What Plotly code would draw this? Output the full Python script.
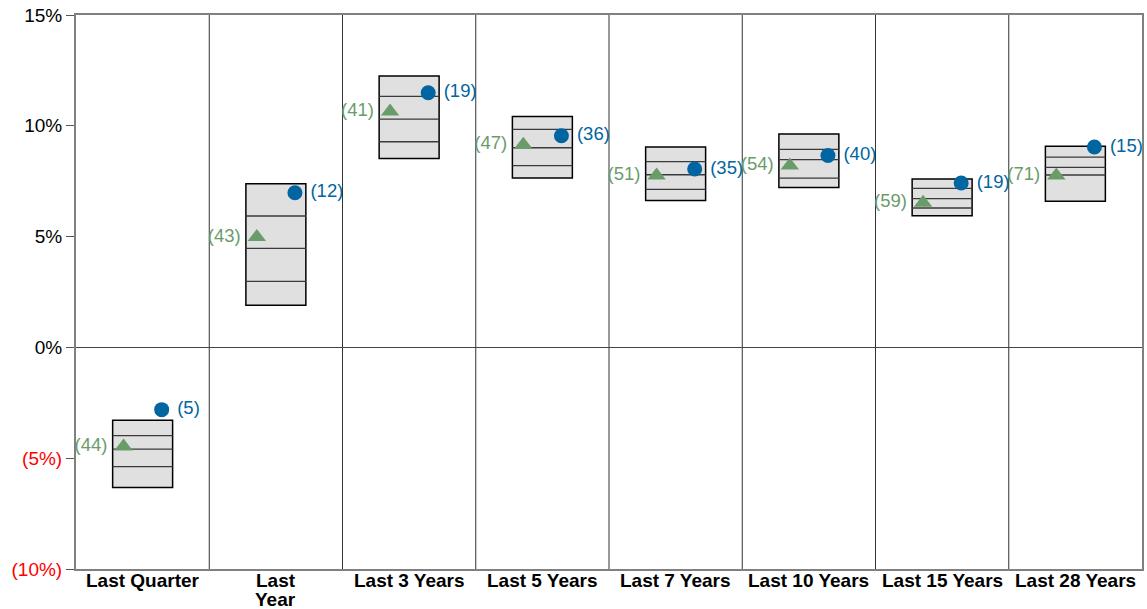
import plotly.graph_objects as go

categories = ["Last Quarter", "Last<br>Year", "Last 3 Years", "Last 5 Years",
              "Last 7 Years", "Last 10 Years", "Last 15 Years", "Last 28 Years"]

# floating bar percentiles (top -> bottom): 5th, 25th, median, 75th, 95th
p05 = [-3.29, 7.38, 12.25, 10.42, 9.04, 9.63, 7.60, 9.08]
p25 = [-3.98, 5.93, 11.33, 9.84, 8.38, 8.94, 7.18, 8.59]
p50 = [-4.59, 4.47, 10.30, 9.01, 7.79, 8.47, 6.71, 8.12]
p75 = [-5.38, 2.98, 9.28, 8.20, 7.13, 7.64, 6.29, 7.78]
p95 = [-6.32, 1.90, 8.53, 7.64, 6.63, 7.22, 5.94, 6.59]

fund_vals = [-2.81, 6.98, 11.49, 9.55, 8.05, 8.66, 7.42, 9.04]
fund_ranks = [5, 12, 19, 36, 35, 40, 19, 15]
index_vals = [-4.47, 4.98, 10.65, 9.15, 7.76, 8.21, 6.53, 7.76]
index_ranks = [44, 43, 41, 47, 51, 54, 59, 71]

ytick_vals = [-10, -5, 0, 5, 10, 15]

BLUE = "#0065A1"
GREEN = "#6A9C6A"
FONT = "Liberation Sans, Arial, sans-serif"
BW = 0.45  # box width in category units
OFF = 0.143  # marker offset from category center

xs = list(range(len(categories)))

fig = go.Figure()

fig.add_trace(go.Bar(
    x=xs,
    y=[hi - lo for hi, lo in zip(p05, p95)],
    base=p95,
    width=BW,
    marker=dict(color="#E0E0E0", line=dict(color="black", width=1.5)),
    hoverinfo="skip",
))

# inner percentile lines
lx, ly = [], []
for i in xs:
    for v in (p25[i], p50[i], p75[i]):
        lx += [i - BW / 2, i + BW / 2, None]
        ly += [v, v, None]
fig.add_trace(go.Scatter(x=lx, y=ly, mode="lines",
                         line=dict(color="#3a3a3a", width=1.3), hoverinfo="skip"))

fig.add_trace(go.Scatter(
    x=[i + OFF for i in xs], y=fund_vals,
    mode="markers+text", cliponaxis=False,
    marker=dict(symbol="circle", size=15, color=BLUE),
    text=[f" ({r})" for r in fund_ranks],
    textposition="middle right",
    textfont=dict(color=BLUE, size=18.5, family=FONT),
))

fig.add_trace(go.Scatter(
    x=[i - OFF for i in xs], y=index_vals,
    mode="markers+text", cliponaxis=False,
    marker=dict(symbol="triangle-up", size=16, color=GREEN),
    text=[f"({r}) " for r in index_ranks],
    textposition="middle left",
    textfont=dict(color=GREEN, size=18.5, family=FONT),
))

# category separators
for i in xs[:-1]:
    fig.add_shape(type="line", xref="x", yref="paper", x0=i + 0.5, x1=i + 0.5,
                  y0=0, y1=1, line=dict(color="#333333", width=1), layer="below")

# category labels (annotations give tighter line spacing than tick labels)
for i, cat in enumerate(categories):
    for k, part in enumerate(cat.split("<br>")):
        fig.add_annotation(x=i, y=0, xref="x", yref="paper", text=f"<b>{part}</b>",
                           showarrow=False, yanchor="middle", yshift=-11 - 19 * k,
                           font=dict(size=19, color="black", family=FONT))

ytick_text = [f"{v}%" if v >= 0 else f'<span style="color:red">({-v}%)</span>'
              for v in ytick_vals]

fig.update_layout(
    width=1147, height=609,
    margin=dict(l=76, r=5, t=15, b=40),
    plot_bgcolor="white", paper_bgcolor="white",
    showlegend=False,
    font=dict(family=FONT, size=19, color="black"),
    xaxis=dict(
        range=[-0.5, len(categories) - 0.5],
        showticklabels=False,
        showgrid=False, zeroline=False, automargin=False,
        showline=True, mirror=True, linecolor="#808080", linewidth=2,
        ticks="",
    ),
    yaxis=dict(
        range=[-10, 15],
        tickvals=ytick_vals, ticktext=ytick_text,
        tickfont=dict(size=19, color="black"),
        showgrid=False, automargin=False,
        zeroline=True, zerolinecolor="#444444", zerolinewidth=1,
        showline=True, mirror=True, linecolor="#808080", linewidth=2,
        ticks="outside", ticklen=8, tickcolor="#555555", tickwidth=1,
    ),
)

fig.write_html("out.html", config={"displayModeBar": False})

# drop the default body margin so the figure sits at the page origin
with open("out.html", encoding="utf-8") as f:
    html = f.read()
html = html.replace("<body>", '<body style="margin:0;overflow:hidden">', 1)
with open("out.html", "w", encoding="utf-8") as f:
    f.write(html)
